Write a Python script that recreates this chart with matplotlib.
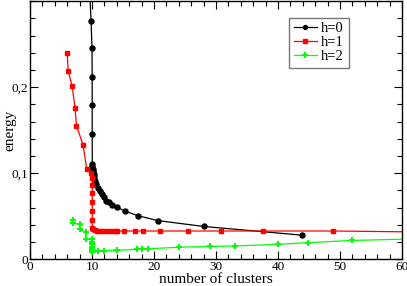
import numpy as np
import matplotlib
matplotlib.use("Agg")
import matplotlib.pyplot as plt
from matplotlib.ticker import MultipleLocator, FuncFormatter

# h=0 : black circles (first point lies above the plot window)
h0_x = [9.5, 9.85, 10.0, 10.03, 10.03, 10.03, 10.05, 10.08, 10.12, 10.18, 10.25,
        10.35, 10.48, 10.7, 10.95, 11.3, 11.6, 11.9, 12.3, 12.7, 13.3, 14.0,
        15.25, 17.4, 20.6, 28.0, 43.8]
h0_y = [0.33, 0.277, 0.245, 0.212, 0.179, 0.145, 0.111, 0.108, 0.105, 0.102, 0.0985,
        0.095, 0.0907, 0.087, 0.083, 0.079, 0.0755, 0.0718, 0.068, 0.066, 0.0635, 0.0605,
        0.056, 0.0505, 0.0448, 0.038, 0.0279]

# h=1 : red squares (last point lies right of the plot window)
h1_x = [6.0, 6.15, 6.8, 7.26, 7.5, 8.57, 9.14, 9.8, 10.05, 10.05, 10.05, 10.05,
        10.05, 10.05, 10.05, 10.2, 10.5, 10.85, 11.3, 11.8, 12.4, 13.1, 13.7, 14.1,
        15.2, 16.9, 18.3, 21.0, 25.5, 30.8, 37.6, 48.8, 70.0]
h1_y = [0.240, 0.219, 0.201, 0.176, 0.155, 0.1326, 0.1052, 0.1006, 0.0945, 0.086,
        0.0765, 0.066, 0.0555, 0.0455, 0.0365, 0.0345, 0.0335, 0.033, 0.0328, 0.0327,
        0.0327, 0.0327, 0.0327, 0.0327, 0.0327, 0.0327, 0.0327, 0.0327, 0.0327,
        0.0327, 0.0327, 0.0327, 0.031]

# h=2 : green markers (last point lies right of the plot window)
h2_x = [7.0, 7.0, 8.0, 8.0, 9.0, 9.0, 10.05, 10.05, 10.05, 10.05, 10.05, 10.05,
        10.05, 11.0, 12.0, 14.0, 17.2, 18.1, 19.0, 24.0, 29.0, 33.0, 40.0, 44.9,
        51.9, 62.0]
h2_y = [0.046, 0.0415, 0.0405, 0.0345, 0.031, 0.0238, 0.0229, 0.0201, 0.0171,
        0.0143, 0.0113, 0.0085, 0.0095, 0.0097, 0.0099, 0.0103, 0.0112, 0.0118,
        0.012, 0.0138, 0.0147, 0.0153, 0.0172, 0.0192, 0.0217, 0.0235]

plt.rcParams['font.family'] = ['Liberation Serif', 'DejaVu Serif']

fig = plt.figure(figsize=(4.07, 2.86), dpi=100)
ax = fig.add_axes([0.0737, 0.094, 0.914, 0.902])

ax.plot(h0_x, h0_y, color='black', lw=0.9, marker='o', ms=3.6, label='h=0')
ax.plot(h1_x, h1_y, color='#ff0000', lw=0.9, marker='s', ms=3.2, label='h=1')
ax.plot(h2_x, h2_y, color='#00ff00', lw=0.9, marker='P', ms=4.6, mew=0, label='h=2')

ax.set_xlim(0, 60)
ax.set_ylim(0, 0.3)
ax.xaxis.set_major_locator(MultipleLocator(10))
ax.xaxis.set_minor_locator(MultipleLocator(2))
ax.set_yticks([0, 0.1, 0.2])
ax.yaxis.set_minor_locator(MultipleLocator(0.02))
ax.yaxis.set_major_formatter(FuncFormatter(lambda v, p: '0' if v == 0 else f'{v:.1f}'.replace('.', ',')))

ax.tick_params(which='both', direction='in', top=True, right=True, labelsize=9.5, width=0.8, pad=1.5)
ax.tick_params(which='major', length=6)
ax.tick_params(which='minor', length=3.5)
for s in ax.spines.values():
    s.set_linewidth(1.0)

ax.set_xlabel('number of clusters', fontsize=11, labelpad=0)
ax.set_ylabel('energy', fontsize=11)
ax.yaxis.set_label_coords(-0.036, 0.5)

leg = ax.legend(loc='upper left', bbox_to_anchor=(0.697, 0.935), fontsize=10.5,
                frameon=True, fancybox=False, handlelength=1.6, handletextpad=0.3,
                borderpad=0.3, labelspacing=0.05, borderaxespad=0, markerscale=0.8)
leg.get_frame().set_edgecolor('#555555')
leg.get_frame().set_linewidth(1.0)

fig.savefig('out.png', dpi=100)
